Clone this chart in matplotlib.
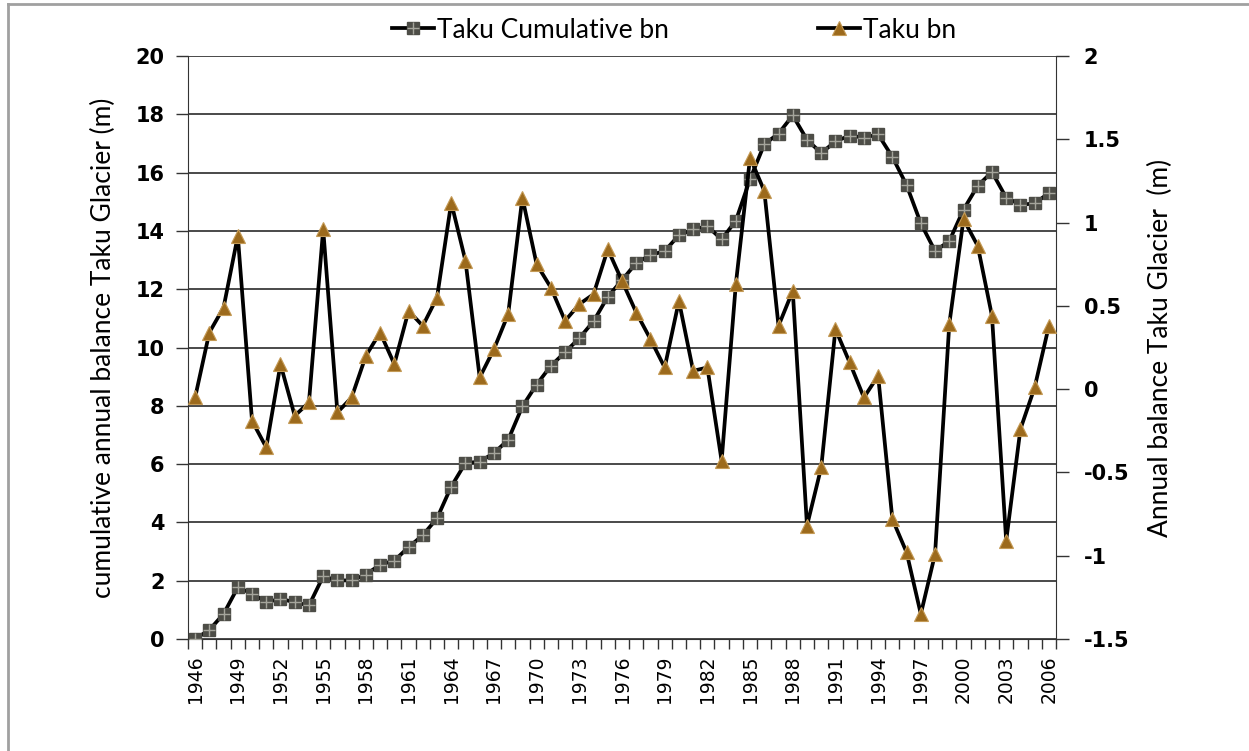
import numpy as np
import matplotlib.pyplot as plt
from matplotlib.lines import Line2D
from matplotlib.ticker import FuncFormatter, FixedLocator

# Taku Glacier mass balance
years = list(range(1946, 2007))
cumulative_bn = [0.0, 0.31, 0.86, 1.77, 1.56, 1.26, 1.38, 1.26, 1.15, 2.15,
                 2.01, 2.01, 2.21, 2.55, 2.69, 3.15, 3.56, 4.14, 5.23, 6.04,
                 6.08, 6.38, 6.83, 7.98, 8.73, 9.37, 9.84, 10.32, 10.90, 11.74,
                 12.31, 12.90, 13.17, 13.31, 13.85, 14.05, 14.16, 13.71, 14.35, 15.78,
                 16.97, 17.34, 17.96, 17.13, 16.67, 17.07, 17.27, 17.20, 17.31, 16.54,
                 15.57, 14.26, 13.31, 13.65, 14.73, 15.55, 16.02, 15.14, 14.90, 14.94,
                 15.30]
annual_bn = [-0.05, 0.34, 0.49, 0.92, -0.19, -0.35, 0.15, -0.16, -0.08, 0.96,
             -0.14, -0.05, 0.20, 0.34, 0.15, 0.47, 0.38, 0.55, 1.12, 0.77,
             0.07, 0.24, 0.45, 1.15, 0.75, 0.61, 0.41, 0.51, 0.57, 0.84,
             0.65, 0.46, 0.30, 0.13, 0.53, 0.11, 0.13, -0.43, 0.63, 1.39,
             1.19, 0.38, 0.59, -0.82, -0.47, 0.36, 0.16, -0.05, 0.08, -0.78,
             -0.98, -1.35, -0.99, 0.39, 1.02, 0.86, 0.44, -0.91, -0.24, 0.01,
             0.38]
year_labels = [str(y) for y in years[::3]]

sq_face = '#4d4d47'
sq_cross = '#a5a59c'
tri_face = '#9c6a1c'
tri_edge = '#c49a55'
label_font = 'Lato'

fig = plt.figure(figsize=(12.49, 7.51), dpi=100)
ax = fig.add_axes([188/1249, 1 - 639/751, (1056 - 188)/1249, (639 - 56)/751])
x = np.arange(len(years))

# cumulative balance on the left axis
ax.plot(x, cumulative_bn, color='black', lw=2.7, marker='s', ms=8.5,
        mfc=sq_face, mec=sq_face, zorder=3)
ax.plot(x, cumulative_bn, ls='none', marker='+', ms=8.5, mew=1.0,
        color=sq_cross, zorder=4)
ax.set_ylim(0, 20)
ax.set_yticks(np.arange(0, 21, 2))
ax.set_xlim(-0.5, len(years) - 0.5)
ax.grid(axis='y', color='#2a2a2a', lw=1.2)
ax.set_axisbelow(True)
ax.xaxis.set_major_locator(FixedLocator(x[::3]))
ax.set_xticklabels(year_labels, rotation=90, fontsize=13.5, family='DejaVu Sans')
ax.xaxis.set_minor_locator(FixedLocator(np.arange(-0.5, len(years), 1)))
ax.tick_params(axis='x', which='major', length=0, pad=12)
ax.tick_params(axis='x', which='minor', length=7, width=1, color='#333333')
ax.tick_params(axis='y', length=9, width=1, color='#333333', pad=8,
               labelsize=15)
for lab in ax.get_yticklabels():
    lab.set_fontweight('bold')
ax.set_ylabel('cumulative annual balance Taku Glacier (m)', family=label_font,
              fontsize=19)
ax.yaxis.set_label_coords(-0.083, 0.5)
for s in ['left', 'bottom']:
    ax.spines[s].set_color('#333333')
ax.spines['top'].set_visible(False)
ax.spines['right'].set_visible(False)

# annual balance on the right axis
ax2 = ax.twinx()
ax2.plot(x, annual_bn, color='black', lw=2.7, marker='^', ms=10,
         mfc=tri_face, mec=tri_edge, mew=0.8, zorder=5)
ax2.set_ylim(-1.5, 2)
ax2.set_yticks(np.arange(-1.5, 2.01, 0.5))
ax2.yaxis.set_major_formatter(FuncFormatter(lambda v, p: '%g' % v))
ax2.tick_params(axis='y', length=9, width=1, color='#333333', pad=11,
                labelsize=15)
for lab in ax2.get_yticklabels():
    lab.set_fontweight('bold')
ax2.set_ylabel('Annual balance Taku Glacier  (m)', family=label_font,
               fontsize=19)
ax2.yaxis.set_label_coords(1.106, 0.5)
ax2.spines['right'].set_color('#333333')
ax2.spines['top'].set_visible(False)
ax2.spines['left'].set_visible(False)
ax2.spines['bottom'].set_visible(False)

# legend at the top
h1 = (Line2D([], [], color='black', lw=2.7, marker='s', ms=8.5, mfc=sq_face, mec=sq_face),
      Line2D([], [], ls='none', marker='+', ms=8.5, mew=1.0, color=sq_cross))
h2 = Line2D([], [], color='black', lw=2.7, marker='^', ms=10, mfc=tri_face,
            mec=tri_edge, mew=0.8)
leg_prop = {'family': label_font, 'size': 19}
fig.legend([h1], ['Taku Cumulative bn'], loc='center left',
           bbox_to_anchor=(392/1249, 1 - 30/751), frameon=False, prop=leg_prop,
           handlelength=1.6, handletextpad=0.1, borderpad=0, borderaxespad=0)
fig.legend([h2], ['Taku bn'], loc='center left',
           bbox_to_anchor=(818/1249, 1 - 30/751), frameon=False, prop=leg_prop,
           handlelength=1.6, handletextpad=0.1, borderpad=0, borderaxespad=0)

# chart area frame (left and top edges visible)
fig.add_artist(Line2D([8/1249, 8/1249], [0, 1 - 4/751], color='#a0a0a0', lw=2,
                      transform=fig.transFigure))
fig.add_artist(Line2D([8/1249, 1], [1 - 4/751, 1 - 4/751], color='#a0a0a0', lw=2,
                      transform=fig.transFigure))

plt.savefig('out.png', dpi=100)
